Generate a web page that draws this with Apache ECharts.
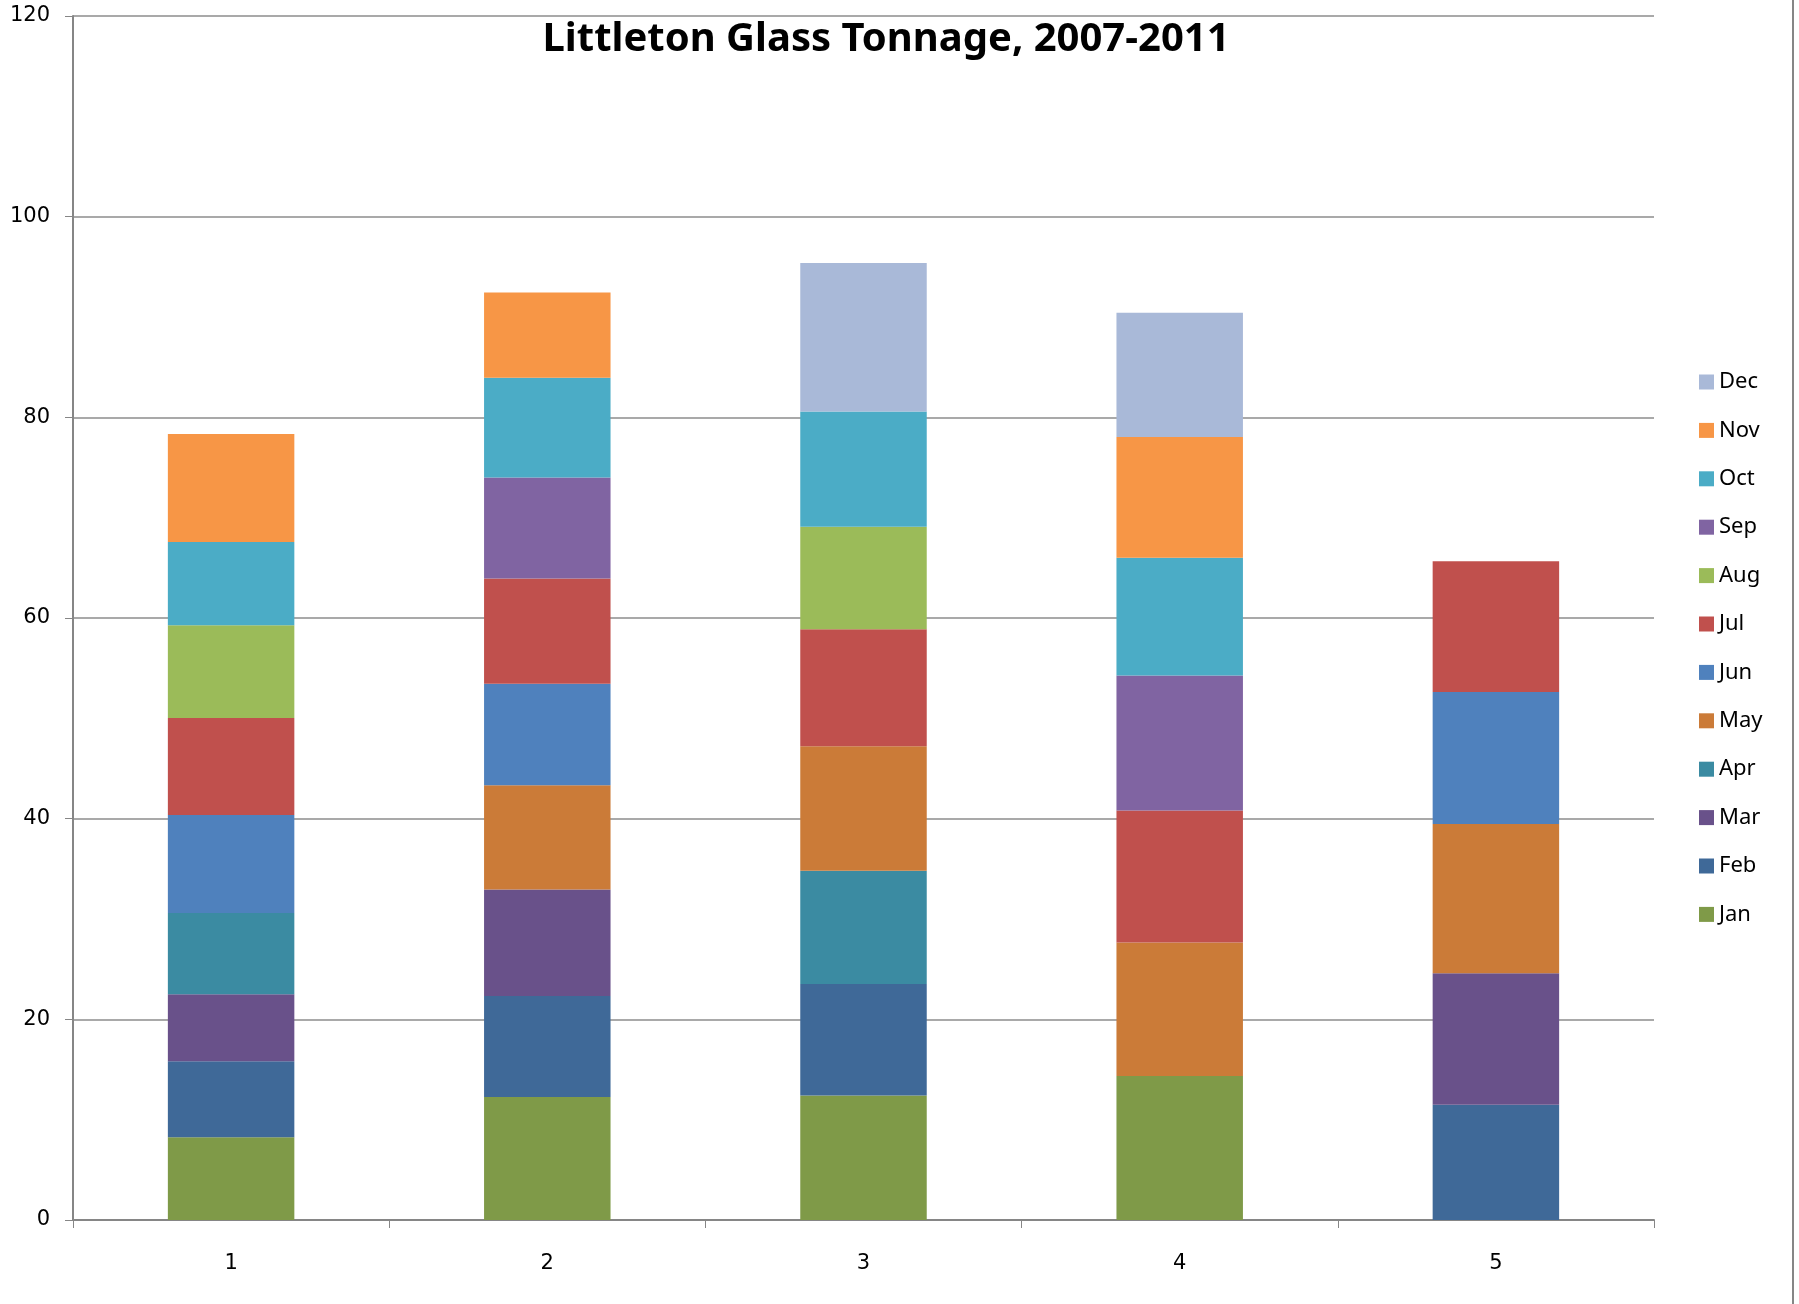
<!DOCTYPE html>
<html>
<head>
<meta charset="utf-8">
<script src="https://cdn.jsdelivr.net/npm/echarts@6/dist/echarts.min.js"></script>
<style>
  html, body { margin: 0; padding: 0; background: #fff; }
  #chart { width: 1799px; height: 1304px; }
</style>
</head>
<body>
<div id="chart"></div>
<script>
const years = ["1", "2", "3", "4", "5"];
const months = ["Jan", "Feb", "Mar", "Apr", "May", "Jun", "Jul", "Aug", "Sep", "Oct", "Nov", "Dec"];

// tons per month, one entry per year (null = no data)
const jan = [8.25, 12.26, 12.42, 14.36, null];
const feb = [7.57, 10.07, 11.10, null, 11.48];
const mar = [6.69, 10.62, null, null, 13.12];
const apr = [8.09, null, 11.28, null, null];
const may = [null, 10.37, 12.42, 13.29, 14.86];
const jun = [9.77, 10.13, null, null, 13.16];
const jul = [9.66, 10.49, 11.66, 13.16, 13.04];
const aug = [9.24, null, 10.21, null, null];
const sep = [null, 10.07, null, 13.47, null];
const oct = [8.30, 9.94, 11.48, 11.73, null];
const nov = [10.76, 8.48, null, 12.03, null];
const dec = [null, null, 14.82, 12.38, null];

const monthData = [jan, feb, mar, apr, may, jun, jul, aug, sep, oct, nov, dec];
const colors = ["#7F9A48", "#3F6998", "#69518A", "#3B8BA2", "#CB7B38", "#4F81BD",
                "#C0504D", "#9BBB59", "#8064A2", "#4BACC6", "#F79646", "#A9B9D8"];

const chart = echarts.init(document.getElementById("chart"));

const series = months.map((m, i) => ({
  name: m,
  type: "bar",
  stack: "total",
  barCategoryGap: "60%",
  data: monthData[i],
  itemStyle: { color: colors[i] },
  emphasis: { disabled: true }
}));

chart.setOption({
  animation: false,
  backgroundColor: "#fff",
  title: {
    text: "Littleton Glass Tonnage, 2007-2011",
    left: 881,
    top: 15,
    textAlign: "center",
    textStyle: { fontFamily: "Noto Sans", fontWeight: "bold", fontSize: 40, color: "#000" }
  },
  legend: {
    orient: "vertical",
    left: 1694,
    top: 366,
    icon: "rect",
    itemWidth: 15,
    itemHeight: 15,
    itemGap: 26.4,
    data: months.slice().reverse(),
    textStyle: { fontFamily: "Noto Sans", fontSize: 22, lineHeight: 22, color: "#000" }
  },
  grid: { left: 73, right: 145, top: 16, bottom: 84 },
  xAxis: {
    type: "category",
    data: years,
    axisLine: { lineStyle: { color: "#868686", width: 2 } },
    axisTick: { show: true, length: 8, lineStyle: { color: "#868686" } },
    axisLabel: { fontFamily: "DejaVu Sans", fontSize: 21, color: "#000", margin: 33 }
  },
  yAxis: {
    type: "value",
    min: 0,
    max: 120,
    interval: 20,
    axisLine: { show: true, lineStyle: { color: "#868686", width: 2 } },
    axisTick: { show: true, length: 8, lineStyle: { color: "#868686" } },
    splitLine: { lineStyle: { color: "#8C8C8C", width: 1.5 } },
    axisLabel: { fontFamily: "DejaVu Sans", fontSize: 21, color: "#000", margin: 23 }
  },
  graphic: [{
    type: "line",
    shape: { x1: 1793, y1: 0, x2: 1793, y2: 1304 },
    style: { stroke: "#868686", lineWidth: 2 }
  }],
  series
});
</script>
</body>
</html>
